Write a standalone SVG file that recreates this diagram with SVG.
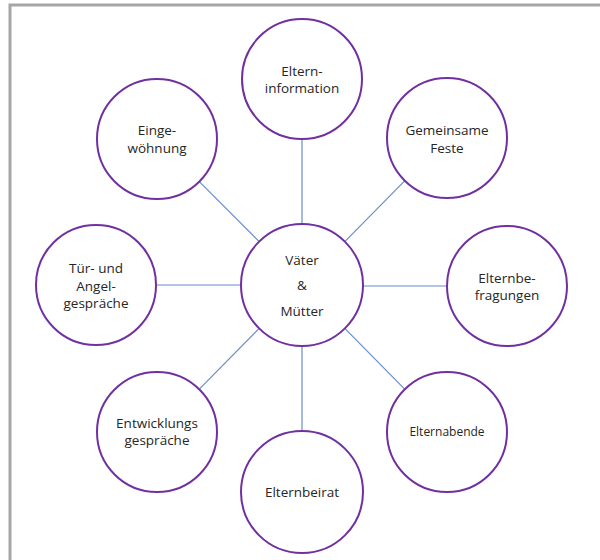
<svg xmlns="http://www.w3.org/2000/svg" width="600" height="560" viewBox="0 0 600 560">
<style>
.n{fill:#fff;stroke:#7030a0;stroke-width:2}
.t{font-family:"Open Sans","Liberation Sans",sans-serif;font-size:13.5px;fill:#262626;text-anchor:middle}
.c line{stroke:#6a8cc8;stroke-width:1.2}
</style>
<rect x="0" y="0" width="600" height="560" fill="#fff"/>
<rect x="10" y="5" width="620" height="600" fill="none" stroke="#a6a6a6" stroke-width="3"/>
<g class="c" id="connectors">
<line x1="302" y1="224" x2="302" y2="140"/>
<line x1="344.8" y1="241.6" x2="404.9" y2="180.7"/>
<line x1="363" y1="286" x2="447" y2="286"/>
<line x1="344.8" y1="328.4" x2="404.9" y2="389.3"/>
<line x1="302" y1="346" x2="302" y2="431"/>
<line x1="259.2" y1="328.4" x2="199.1" y2="389.3"/>
<line x1="157" y1="285" x2="241" y2="285"/>
<line x1="259.2" y1="241.6" x2="199.3" y2="181.6"/>
</g>
<g id="center"><circle class="n" cx="302" cy="285" r="61"/><text class="t" x="302" y="265">Väter</text><text class="t" x="302" y="290">&amp;</text><text class="t" x="302" y="316">Mütter</text></g>
<g id="info"><circle class="n" cx="302" cy="79" r="60"/><text class="t" x="302" y="76">Eltern-</text><text class="t" x="302" y="93">information</text></g>
<g id="feste"><circle class="n" cx="447" cy="138" r="60"/><text class="t" x="447" y="135">Gemeinsame</text><text class="t" x="447" y="153">Feste</text></g>
<g id="befragungen"><circle class="n" cx="507" cy="286" r="60"/><text class="t" x="507" y="283">Elternbe-</text><text class="t" x="507" y="300">fragungen</text></g>
<g id="abende"><circle class="n" cx="447" cy="432" r="60"/><text class="t" x="447" y="436" style="font-size:12px">Elternabende</text></g>
<g id="beirat"><circle class="n" cx="302" cy="492" r="61"/><text class="t" x="302" y="497">Elternbeirat</text></g>
<g id="entwicklung"><circle class="n" cx="157" cy="432" r="60"/><text class="t" x="157" y="428">Entwicklungs</text><text class="t" x="157" y="445">gespräche</text></g>
<g id="tuer"><circle class="n" cx="96" cy="285" r="60"/><text class="t" x="96" y="273">Tür- und</text><text class="t" x="96" y="291">Angel-</text><text class="t" x="96" y="308">gespräche</text></g>
<g id="eingewoehnung"><circle class="n" cx="157" cy="139" r="60"/><text class="t" x="157" y="135">Einge-</text><text class="t" x="157" y="153">wöhnung</text></g>
</svg>
